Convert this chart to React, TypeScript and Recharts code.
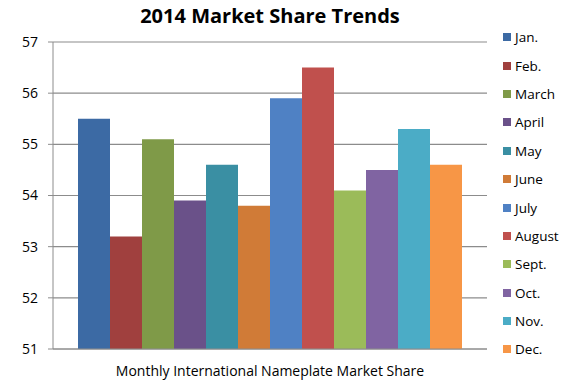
import { BarChart, Bar, XAxis, YAxis, CartesianGrid } from "recharts";

const months = ["Jan.", "Feb.", "March", "April", "May", "June", "July", "August", "Sept.", "Oct.", "Nov.", "Dec."];
const shares = [55.5, 53.2, 55.1, 53.9, 54.6, 53.8, 55.9, 56.5, 54.1, 54.5, 55.3, 54.6];
const colors = [
  "#3C6AA4", "#A0403E", "#7F9A48", "#6A5189", "#3A8FA3", "#D07B37",
  "#4F81C4", "#C0504D", "#9BBB59", "#8064A2", "#4BACC6", "#F79646",
];
const yTicks = [51, 52, 53, 54, 55, 56, 57];

const row: Record<string, string | number> = { name: "2014" };
months.forEach((m, i) => {
  row[m] = shares[i];
});
const data = [row];

const font = "'Open Sans', sans-serif";

export default function App() {
  return (
    <div style={{ position: "absolute", left: 0, top: 0, width: 570, height: 382, background: "#fff", fontFamily: font }}>
      <div
        style={{
          position: "absolute",
          left: 0,
          top: 2,
          width: 540,
          textAlign: "center",
          fontWeight: "bold",
          fontSize: 20,
        }}
      >
        2014 Market Share Trends
      </div>
      <BarChart
        width={570}
        height={382}
        data={data}
        margin={{ top: 42, right: 83, bottom: 0, left: 0 }}
        barCategoryGap={25}
        barGap={0}
      >
        <CartesianGrid vertical={false} stroke="#8c8c8c" strokeWidth={1.2} />
        <XAxis
          dataKey="name"
          tick={false}
          tickLine={false}
          height={33}
          stroke="#8c8c8c"
          label={{ value: "Monthly International Nameplate Market Share", position: "insideBottom", offset: 6, fill: "#000", fontSize: 14, fontFamily: font }}
        />
        <YAxis
          width={53}
          domain={[51, 57]}
          ticks={yTicks}
          interval={0}
          tickSize={5}
          tickMargin={10}
          stroke="#8c8c8c"
          tick={{ fill: "#000", fontSize: 14, fontFamily: font }}
        />
        {months.map((m, i) => (
          <Bar key={m} dataKey={m} fill={colors[i]} isAnimationActive={false} />
        ))}
      </BarChart>
      <div style={{ position: "absolute", left: 503, top: 23 }}>
        {months.map((m, i) => (
          <div key={m} style={{ height: 28.4, display: "flex", alignItems: "center", fontSize: 13.5 }}>
            <span style={{ width: 8, height: 8, background: colors[i], marginRight: 4, display: "inline-block" }} />
            {m}
          </div>
        ))}
      </div>
    </div>
  );
}
